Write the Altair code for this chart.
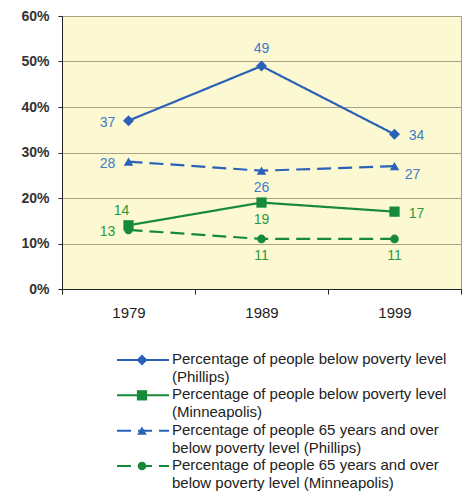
import altair as alt
import pandas as pd

# Census years on the horizontal axis
years = ["1979", "1989", "1999"]

# Series (percent of population below poverty level)
series_names = [
    "Poverty (Phillips)",
    "Poverty (Minneapolis)",
    "Poverty 65+ (Phillips)",
    "Poverty 65+ (Minneapolis)",
]
series_city = ["Phillips", "Minneapolis", "Phillips", "Minneapolis"]
legend_labels = [
    "Percentage of people below poverty level\n(Phillips)",
    "Percentage of people below poverty level\n(Minneapolis)",
    "Percentage of people 65 years and over\nbelow poverty level  (Phillips)",
    "Percentage of people 65 years and over\nbelow poverty level  (Minneapolis)",
]
phillips_poverty = [37, 49, 34]
minneapolis_poverty = [14, 19, 17]
phillips_65 = [28, 26, 27]
minneapolis_65 = [13, 11, 11]

# Where each value label sits relative to its marker
phillips_poverty_side = ["left", "above", "right"]
minneapolis_poverty_side = ["upleft", "below", "right"]
phillips_65_side = ["left", "below", "downright"]
minneapolis_65_side = ["left", "below", "below"]

values = [phillips_poverty, minneapolis_poverty, phillips_65, minneapolis_65]
sides = [phillips_poverty_side, minneapolis_poverty_side, phillips_65_side, minneapolis_65_side]

rows = []
for name, city, vals, sd in zip(series_names, series_city, values, sides):
    for yr, v, s in zip(years, vals, sd):
        rows.append({"series": name, "city": city, "year": yr, "value": v, "side": s})
df = pd.DataFrame(rows)

legend_df = pd.DataFrame({"series": series_names, "label": legend_labels})

BLUE = "#2a62b8"
GREEN = "#178a3a"
BLUE_LBL = "#3d7cc9"
GREEN_LBL = "#2b9a3e"
FONT = "Liberation Sans"

color_scale = alt.Scale(domain=series_names, range=[BLUE, GREEN, BLUE, GREEN])
dash_scale = alt.Scale(domain=series_names, range=[[1, 0], [1, 0], [14, 7], [14, 7]])
shape_scale = alt.Scale(domain=series_names,
                        range=["diamond", "square", "triangle-up", "circle"])
size_scale = alt.Scale(domain=series_names, range=[120, 75, 200, 75])

x_enc = alt.X(
    "year:O",
    sort=years,
    scale=alt.Scale(type="band", paddingInner=0, paddingOuter=0),
    axis=alt.Axis(
        title=None, labelAngle=0, tickBand="extent", tickSize=5,
        tickColor="#222", domainColor="#222", labelColor="#222",
        labelFontSize=15, labelFont=FONT, labelPadding=11, grid=False,
    ),
)
y_enc = alt.Y(
    "value:Q",
    scale=alt.Scale(domain=[0, 60], nice=False),
    axis=alt.Axis(
        title=None, values=[0, 10, 20, 30, 40, 50, 60],
        labelExpr="datum.value + '%'", tickSize=4,
        tickColor="#222", domainColor="#222", labelColor="#333",
        labelFontSize=14, labelFont=FONT, labelFontWeight="bold",
        labelPadding=9, grid=True, gridColor="#a8a286", gridWidth=1,
    ),
)

base = alt.Chart(df).encode(x=x_enc, y=y_enc)

lines = base.mark_line(strokeWidth=2.2).encode(
    color=alt.Color("series:N", scale=color_scale, legend=None),
    strokeDash=alt.StrokeDash("series:N", scale=dash_scale, legend=None),
    detail="series:N",
)
points = base.mark_point(filled=True, opacity=1).encode(
    color=alt.Color("series:N", scale=color_scale, legend=None),
    shape=alt.Shape("series:N", scale=shape_scale, legend=None),
    size=alt.Size("series:N", scale=size_scale, legend=None),
)

label_color = alt.condition(
    "datum.city == 'Phillips'", alt.value(BLUE_LBL), alt.value(GREEN_LBL)
)
offsets = {
    "left": (-21, 2),
    "right": (22, 2),
    "above": (0, -17),
    "below": (0, 17),
    "upleft": (-7, -14),
    "downright": (18, 9),
}
texts = []
for side, (dx, dy) in offsets.items():
    texts.append(
        base.transform_filter(alt.datum.side == side)
        .mark_text(dx=dx, dy=dy, fontSize=14, font=FONT, align="center", baseline="middle")
        .encode(text=alt.Text("value:Q"), color=label_color)
    )

main = alt.layer(lines, points, *texts).properties(
    width=399, height=273,
    view=alt.ViewBackground(fill="#fcf8d2", stroke="#9a9a9a"),
)

# Legend drawn below the plot
leg_y = alt.Y("series:N", sort=series_names,
              scale=alt.Scale(type="point", padding=0), axis=None)
leg_base = alt.Chart(legend_df).encode(y=leg_y)
leg_dash = alt.Scale(domain=series_names,
                     range=[[1, 0], [1, 0], [19, 7, 19, 100], [19, 7, 19, 100]])
leg_rule = leg_base.mark_rule(strokeWidth=2).encode(
    x=alt.value(55), x2=alt.value(107),
    color=alt.Color("series:N", scale=color_scale, legend=None),
    strokeDash=alt.StrokeDash("series:N", scale=leg_dash, legend=None),
)
leg_pt = leg_base.mark_point(filled=True, opacity=1).encode(
    x=alt.value(80),
    color=alt.Color("series:N", scale=color_scale, legend=None),
    shape=alt.Shape("series:N", scale=shape_scale, legend=None),
    size=alt.Size("series:N", scale=size_scale, legend=None),
)
leg_txt = leg_base.mark_text(
    align="left", baseline="top", dy=-8, lineBreak="\n", lineHeight=18,
    fontSize=15, font=FONT, color="#222",
).encode(x=alt.value(110), text="label:N")

legend = alt.layer(leg_rule, leg_pt, leg_txt).properties(
    width=399, height=106,
    view=alt.ViewBackground(fill=None, stroke=None),
)

chart = alt.vconcat(main, legend, spacing=31).properties(
    padding={"left": 20, "top": 8, "right": 5, "bottom": 5},
    background="white",
).resolve_scale(color="shared")

chart.save("out.html", embed_options={"renderer": "svg", "actions": False})
